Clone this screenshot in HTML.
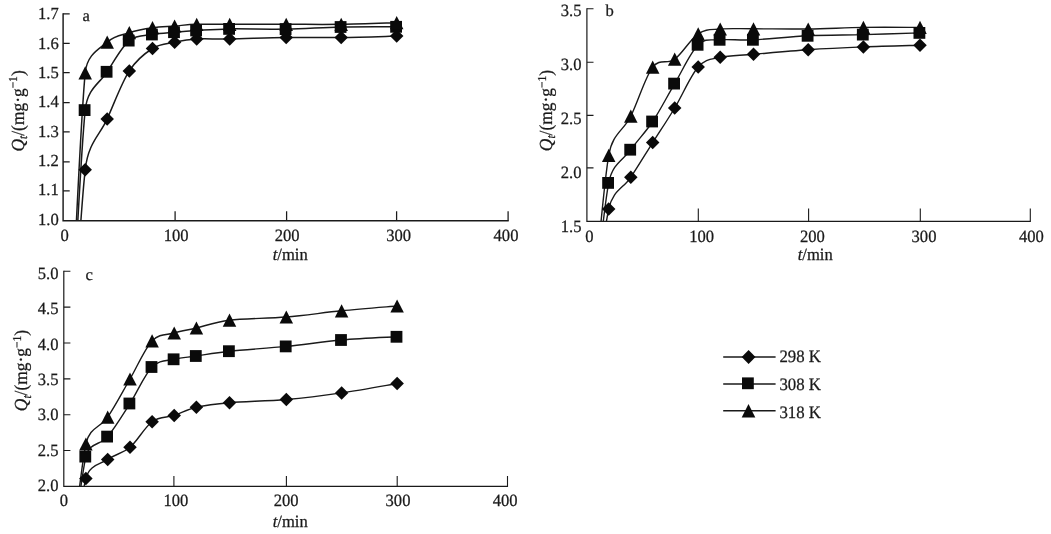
<!DOCTYPE html>
<html lang="en"><head><meta charset="utf-8"><title>Adsorption kinetics at 298, 308 and 318 K</title>
<style>html,body{margin:0;padding:0;background:#fff;}body{width:1051px;height:534px;overflow:hidden;}svg{display:block;}text{font-family:"Liberation Serif", "Times New Roman", serif;fill:#1a1a1a;text-rendering:geometricPrecision;stroke:#1a1a1a;stroke-width:0.25px;}</style></head><body>
<svg width="1051" height="534" viewBox="0 0 1051 534">
<rect width="1051" height="534" fill="#ffffff"/>
<g id="chart-a">
<clipPath id="clip0"><rect x="63.1" y="1.8" width="455" height="219"/></clipPath>
<g fill="none" stroke="#1a1a1a" stroke-width="1.5" stroke-linejoin="round" clip-path="url(#clip0)">
<path d="M63.1,516.5 C66.78,458.72 77.85,236.07 85.2,169.8 C88.26,142.24 99.85,135.38 107.2,118.9 C114.55,102.42 121.75,82.63 129.3,70.9 C136.85,59.17 144.95,53.27 152.5,48.5 C160.05,43.73 167.23,43.88 174.6,42.3 C181.97,40.72 187.52,39.55 196.7,39 C205.88,38.45 214.78,39.25 229.7,39 C244.62,38.75 267.62,37.75 286.2,37.5 C304.78,37.25 322.78,37.73 341.2,37.5 C359.62,37.27 387.45,36.33 396.7,36.1"/>
<path d="M63.1,516.5 C66.78,448.77 77.85,184.22 85.2,110.1 C87.38,88.12 99.85,83.38 107.2,71.8 C114.55,60.22 121.75,46.82 129.3,40.6 C136.85,34.38 144.95,35.9 152.5,34.5 C160.05,33.1 167.23,32.87 174.6,32.2 C181.97,31.53 187.52,31.05 196.7,30.5 C205.88,29.95 214.78,29.13 229.7,28.9 C244.62,28.67 267.62,29.42 286.2,29.1 C304.78,28.78 322.78,27.38 341.2,27 C359.62,26.62 387.45,26.83 396.7,26.8"/>
<path d="M63.1,516.5 C66.78,442.57 77.85,151.97 85.2,72.9 C86.95,54.06 99.85,48.8 107.2,42.1 C114.55,35.4 121.75,35.1 129.3,32.7 C136.85,30.3 144.95,28.82 152.5,27.7 C160.05,26.58 167.23,26.57 174.6,26 C181.97,25.43 187.52,24.58 196.7,24.3 C205.88,24.02 214.78,24.3 229.7,24.3 C244.62,24.3 267.62,24.3 286.2,24.3 C304.78,24.3 322.78,24.57 341.2,24.3 C359.62,24.03 387.45,22.97 396.7,22.7"/>
</g>
<g stroke="#1a1a1a" fill="none" stroke-linecap="butt">
<path stroke-width="1.45" d="M63.1,13.18 L63.1,220.8 L508.73,220.8"/>
<path stroke-width="1.25" d="M63.1,13.8 h6.6 M63.1,43.45 h6.6 M63.1,72.7 h6.6 M63.1,102.65 h6.6 M63.1,131.9 h6.6 M63.1,161.75 h6.6 M63.1,190.9 h6.6 M175.1,220.8 v-9.6 M286.6,220.8 v-9.6 M396.6,220.8 v-9.6 M508.1,220.8 v-9.6"/>
</g>
<g fill="#0a0a0a" stroke="none">
<path d="M85.2,163.05 L91.95,169.8 L85.2,176.55 L78.45,169.8Z"/>
<path d="M107.2,112.15 L113.95,118.9 L107.2,125.65 L100.45,118.9Z"/>
<path d="M129.3,64.15 L136.05,70.9 L129.3,77.65 L122.55,70.9Z"/>
<path d="M152.5,41.75 L159.25,48.5 L152.5,55.25 L145.75,48.5Z"/>
<path d="M174.6,35.55 L181.35,42.3 L174.6,49.05 L167.85,42.3Z"/>
<path d="M196.7,32.25 L203.45,39 L196.7,45.75 L189.95,39Z"/>
<path d="M229.7,32.25 L236.45,39 L229.7,45.75 L222.95,39Z"/>
<path d="M286.2,30.75 L292.95,37.5 L286.2,44.25 L279.45,37.5Z"/>
<path d="M341.2,30.75 L347.95,37.5 L341.2,44.25 L334.45,37.5Z"/>
<path d="M396.7,29.35 L403.45,36.1 L396.7,42.85 L389.95,36.1Z"/>
<rect x="78.7" y="104.2" width="11.8" height="11.8"/>
<rect x="100.7" y="65.9" width="11.8" height="11.8"/>
<rect x="122.8" y="34.7" width="11.8" height="11.8"/>
<rect x="146" y="28.6" width="11.8" height="11.8"/>
<rect x="168.1" y="26.3" width="11.8" height="11.8"/>
<rect x="190.2" y="24.6" width="11.8" height="11.8"/>
<rect x="223.2" y="23" width="11.8" height="11.8"/>
<rect x="279.7" y="23.2" width="11.8" height="11.8"/>
<rect x="334.7" y="21.1" width="11.8" height="11.8"/>
<rect x="390.2" y="20.9" width="11.8" height="11.8"/>
<path d="M85.2,66.3 L91.95,79.5 L78.45,79.5Z"/>
<path d="M107.2,35.5 L113.95,48.7 L100.45,48.7Z"/>
<path d="M129.3,26.1 L136.05,39.3 L122.55,39.3Z"/>
<path d="M152.5,21.1 L159.25,34.3 L145.75,34.3Z"/>
<path d="M174.6,19.4 L181.35,32.6 L167.85,32.6Z"/>
<path d="M196.7,17.7 L203.45,30.9 L189.95,30.9Z"/>
<path d="M229.7,17.7 L236.45,30.9 L222.95,30.9Z"/>
<path d="M286.2,17.7 L292.95,30.9 L279.45,30.9Z"/>
<path d="M341.2,17.7 L347.95,30.9 L334.45,30.9Z"/>
<path d="M396.7,16.1 L403.45,29.3 L389.95,29.3Z"/>
</g>
<g font-size="16.6">
<text transform="translate(38,19.4) scale(1,1.02)">1.7</text>
<text transform="translate(38,48.74) scale(1,1.02)">1.6</text>
<text transform="translate(38,78.09) scale(1,1.02)">1.5</text>
<text transform="translate(38,107.43) scale(1,1.02)">1.4</text>
<text transform="translate(38,136.77) scale(1,1.02)">1.3</text>
<text transform="translate(38,166.11) scale(1,1.02)">1.2</text>
<text transform="translate(38,195.46) scale(1,1.02)">1.1</text>
<text transform="translate(38,224.8) scale(1,1.02)">1.0</text>
<text transform="translate(64.7,241.4) scale(1,1.04)" text-anchor="middle">0</text>
<text transform="translate(176.2,241.4) scale(1,1.04)" text-anchor="middle">100</text>
<text transform="translate(287.1,241.4) scale(1,1.04)" text-anchor="middle">200</text>
<text transform="translate(398.6,241.4) scale(1,1.04)" text-anchor="middle">300</text>
<text transform="translate(506,241.4) scale(1,1.04)" text-anchor="middle">400</text>
<text transform="translate(290.2,260) scale(1,1.04)" text-anchor="middle"><tspan font-style="italic">t</tspan>/min</text>
<text x="82.6" y="21.4">a</text>
</g>
<text font-size="17.4" text-anchor="middle" transform="translate(23.5,110.9) rotate(-90) scale(1,1.06)"><tspan font-style="italic">Q</tspan><tspan font-style="italic" font-size="11.5" dy="3.2">t</tspan><tspan dy="-3.2">/(mg·g</tspan><tspan font-size="11.5" dy="-6.2">−1</tspan><tspan dy="6.2">)</tspan></text>
</g>
<g id="chart-b">
<clipPath id="clip1"><rect x="586.9" y="-3.2" width="453.4" height="224.5"/></clipPath>
<g fill="none" stroke="#1a1a1a" stroke-width="1.4" stroke-linejoin="round" clip-path="url(#clip1)">
<path d="M586.9,380.6 C590.53,352 601.38,242.88 608.7,209 C612.78,190.11 623.47,188.37 630.8,177.3 C638.13,166.23 645.38,154.15 652.7,142.6 C660.02,131.05 667.12,120.6 674.7,108 C682.28,95.4 690.62,75.45 698.2,67 C705.78,58.55 710.98,59.42 720.2,57.3 C729.42,55.18 738.83,55.57 753.5,54.3 C768.17,53.03 789.88,50.93 808.2,49.7 C826.52,48.47 844.77,47.65 863.4,46.9 C882.03,46.15 910.57,45.48 920,45.2"/>
<path d="M586.9,380.6 C590.53,347.65 601.38,221.38 608.7,182.9 C612.42,163.31 623.47,159.93 630.8,149.7 C638.13,139.47 645.38,132.52 652.7,121.5 C660.02,110.48 667.12,96.38 674.7,83.6 C682.28,70.82 690.62,52.1 698.2,44.8 C705.78,37.5 710.98,40.63 720.2,39.8 C729.42,38.97 738.83,40.47 753.5,39.8 C768.17,39.13 789.88,36.67 808.2,35.8 C826.52,34.93 844.77,35.08 863.4,34.6 C882.03,34.12 910.57,33.18 920,32.9"/>
<path d="M586.9,380.6 C590.53,343.07 601.38,199.47 608.7,155.4 C612.39,133.2 623.47,130.92 630.8,116.2 C638.13,101.48 645.38,76.6 652.7,67.1 C659.83,57.84 667.12,64.75 674.7,59.2 C682.28,53.65 690.62,38.83 698.2,33.8 C705.78,28.77 710.98,29.83 720.2,29 C729.42,28.17 738.83,28.8 753.5,28.8 C768.17,28.8 789.88,29.23 808.2,29 C826.52,28.77 844.77,27.67 863.4,27.4 C882.03,27.13 910.57,27.4 920,27.4"/>
</g>
<g stroke="#1a1a1a" fill="none" stroke-linecap="butt">
<path stroke-width="1.2" d="M586.9,8.25 L586.9,221.3 L1030.85,221.3"/>
<path stroke-width="1.1" d="M586.9,8.8 h6.6 M586.9,62.2 h6.6 M586.9,115.4 h6.6 M586.9,167.9 h6.6 M698.3,221.3 v-12.8 M808.6,221.3 v-12.8 M920.3,221.3 v-12.8 M1030.3,221.3 v-12.8"/>
</g>
<g fill="#0a0a0a" stroke="none">
<path d="M608.7,202.25 L615.45,209 L608.7,215.75 L601.95,209Z"/>
<path d="M630.8,170.55 L637.55,177.3 L630.8,184.05 L624.05,177.3Z"/>
<path d="M652.7,135.85 L659.45,142.6 L652.7,149.35 L645.95,142.6Z"/>
<path d="M674.7,101.25 L681.45,108 L674.7,114.75 L667.95,108Z"/>
<path d="M698.2,60.25 L704.95,67 L698.2,73.75 L691.45,67Z"/>
<path d="M720.2,50.55 L726.95,57.3 L720.2,64.05 L713.45,57.3Z"/>
<path d="M753.5,47.55 L760.25,54.3 L753.5,61.05 L746.75,54.3Z"/>
<path d="M808.2,42.95 L814.95,49.7 L808.2,56.45 L801.45,49.7Z"/>
<path d="M863.4,40.15 L870.15,46.9 L863.4,53.65 L856.65,46.9Z"/>
<path d="M920,38.45 L926.75,45.2 L920,51.95 L913.25,45.2Z"/>
<rect x="602.2" y="177" width="11.8" height="11.8"/>
<rect x="624.3" y="143.8" width="11.8" height="11.8"/>
<rect x="646.2" y="115.6" width="11.8" height="11.8"/>
<rect x="668.2" y="77.7" width="11.8" height="11.8"/>
<rect x="691.7" y="38.9" width="11.8" height="11.8"/>
<rect x="713.7" y="33.9" width="11.8" height="11.8"/>
<rect x="747" y="33.9" width="11.8" height="11.8"/>
<rect x="801.7" y="29.9" width="11.8" height="11.8"/>
<rect x="856.9" y="28.7" width="11.8" height="11.8"/>
<rect x="913.5" y="27" width="11.8" height="11.8"/>
<path d="M608.7,148.8 L615.45,162 L601.95,162Z"/>
<path d="M630.8,109.6 L637.55,122.8 L624.05,122.8Z"/>
<path d="M652.7,60.5 L659.45,73.7 L645.95,73.7Z"/>
<path d="M674.7,52.6 L681.45,65.8 L667.95,65.8Z"/>
<path d="M698.2,27.2 L704.95,40.4 L691.45,40.4Z"/>
<path d="M720.2,22.4 L726.95,35.6 L713.45,35.6Z"/>
<path d="M753.5,22.2 L760.25,35.4 L746.75,35.4Z"/>
<path d="M808.2,22.4 L814.95,35.6 L801.45,35.6Z"/>
<path d="M863.4,20.8 L870.15,34 L856.65,34Z"/>
<path d="M920,20.8 L926.75,34 L913.25,34Z"/>
</g>
<g font-size="16.6">
<text transform="translate(560.8,15.7) scale(1,1.04)">3.5</text>
<text transform="translate(560.8,69.65) scale(1,1.04)">3.0</text>
<text transform="translate(560.8,123.6) scale(1,1.04)">2.5</text>
<text transform="translate(560.8,177.55) scale(1,1.04)">2.0</text>
<text transform="translate(560.8,231.5) scale(1,1.04)">1.5</text>
<text transform="translate(589.4,241.5) scale(1,1.04)" text-anchor="middle">0</text>
<text transform="translate(701.6,241.5) scale(1,1.04)" text-anchor="middle">100</text>
<text transform="translate(812.4,241.5) scale(1,1.04)" text-anchor="middle">200</text>
<text transform="translate(924,241.5) scale(1,1.04)" text-anchor="middle">300</text>
<text transform="translate(1031.4,241.5) scale(1,1.04)" text-anchor="middle">400</text>
<text transform="translate(815.2,259.8) scale(1,1.04)" text-anchor="middle"><tspan font-style="italic">t</tspan>/min</text>
<text x="605.6" y="16.1">b</text>
</g>
<text font-size="17.4" text-anchor="middle" transform="translate(552.1,110.6) rotate(-90) scale(1,1.06)"><tspan font-style="italic">Q</tspan><tspan font-style="italic" font-size="11.5" dy="3.2">t</tspan><tspan dy="-3.2">/(mg·g</tspan><tspan font-size="11.5" dy="-6.2">−1</tspan><tspan dy="6.2">)</tspan></text>
</g>
<g id="chart-c">
<clipPath id="clip2"><rect x="63.8" y="259.3" width="453.7" height="227.1"/></clipPath>
<g fill="none" stroke="#1a1a1a" stroke-width="1.4" stroke-linejoin="round" clip-path="url(#clip2)">
<path d="M63.8,629.8 C67.48,604.58 78.58,506.9 85.9,478.5 C89.52,464.47 100.35,464.6 107.7,459.4 C115.05,454.2 122.6,453.58 130,447.3 C137.4,441.02 144.73,427.02 152.1,421.7 C159.47,416.38 166.82,417.8 174.2,415.4 C181.58,413 187.18,409.42 196.4,407.3 C205.62,405.18 214.52,404 229.5,402.7 C244.48,401.4 267.62,401.13 286.3,399.5 C304.98,397.87 323.13,395.57 341.6,392.9 C360.07,390.23 387.85,385.07 397.1,383.5"/>
<path d="M63.8,629.8 C67.48,600.93 78.58,488.8 85.9,456.6 C89.18,442.18 100.35,445.45 107.7,436.6 C115.05,427.75 122.6,415.1 130,403.5 C137.4,391.9 144.73,374.37 152.1,367 C159.47,359.63 166.82,361.13 174.2,359.3 C181.58,357.47 187.18,357.35 196.4,356 C205.62,354.65 214.52,352.8 229.5,351.2 C244.48,349.6 267.62,348.27 286.3,346.4 C304.98,344.53 323.13,341.6 341.6,340 C360.07,338.4 387.85,337.33 397.1,336.8"/>
<path d="M63.8,629.8 C67.48,598.83 78.58,479.45 85.9,444 C89.4,427.05 100.35,427.93 107.7,417.1 C115.05,406.27 122.6,391.7 130,379 C137.4,366.3 144.73,348.57 152.1,340.9 C159.47,333.23 166.82,335.15 174.2,333 C181.58,330.85 187.18,330.13 196.4,328 C205.62,325.87 214.52,322.03 229.5,320.2 C244.48,318.37 267.62,318.57 286.3,317 C304.98,315.43 323.13,312.63 341.6,310.8 C360.07,308.97 387.85,306.8 397.1,306"/>
</g>
<g stroke="#1a1a1a" fill="none" stroke-linecap="butt">
<path stroke-width="1.2" d="M63.8,270.75 L63.8,486.4 L508.05,486.4"/>
<path stroke-width="1.1" d="M63.8,271.3 h6.6 M63.8,307.15 h6.6 M63.8,343 h6.6 M63.8,378.85 h6.6 M63.8,414.7 h6.6 M63.8,450.55 h6.6 M173.9,486.4 v-10.4 M286.4,486.4 v-10.4 M397.2,486.4 v-10.4 M507.5,486.4 v-10.4"/>
</g>
<g fill="#0a0a0a" stroke="none">
<path d="M85.9,471.75 L92.65,478.5 L85.9,485.25 L79.15,478.5Z"/>
<path d="M107.7,452.65 L114.45,459.4 L107.7,466.15 L100.95,459.4Z"/>
<path d="M130,440.55 L136.75,447.3 L130,454.05 L123.25,447.3Z"/>
<path d="M152.1,414.95 L158.85,421.7 L152.1,428.45 L145.35,421.7Z"/>
<path d="M174.2,408.65 L180.95,415.4 L174.2,422.15 L167.45,415.4Z"/>
<path d="M196.4,400.55 L203.15,407.3 L196.4,414.05 L189.65,407.3Z"/>
<path d="M229.5,395.95 L236.25,402.7 L229.5,409.45 L222.75,402.7Z"/>
<path d="M286.3,392.75 L293.05,399.5 L286.3,406.25 L279.55,399.5Z"/>
<path d="M341.6,386.15 L348.35,392.9 L341.6,399.65 L334.85,392.9Z"/>
<path d="M397.1,376.75 L403.85,383.5 L397.1,390.25 L390.35,383.5Z"/>
<rect x="79.4" y="450.7" width="11.8" height="11.8"/>
<rect x="101.2" y="430.7" width="11.8" height="11.8"/>
<rect x="123.5" y="397.6" width="11.8" height="11.8"/>
<rect x="145.6" y="361.1" width="11.8" height="11.8"/>
<rect x="167.7" y="353.4" width="11.8" height="11.8"/>
<rect x="189.9" y="350.1" width="11.8" height="11.8"/>
<rect x="223" y="345.3" width="11.8" height="11.8"/>
<rect x="279.8" y="340.5" width="11.8" height="11.8"/>
<rect x="335.1" y="334.1" width="11.8" height="11.8"/>
<rect x="390.6" y="330.9" width="11.8" height="11.8"/>
<path d="M85.9,437.4 L92.65,450.6 L79.15,450.6Z"/>
<path d="M107.7,410.5 L114.45,423.7 L100.95,423.7Z"/>
<path d="M130,372.4 L136.75,385.6 L123.25,385.6Z"/>
<path d="M152.1,334.3 L158.85,347.5 L145.35,347.5Z"/>
<path d="M174.2,326.4 L180.95,339.6 L167.45,339.6Z"/>
<path d="M196.4,321.4 L203.15,334.6 L189.65,334.6Z"/>
<path d="M229.5,313.6 L236.25,326.8 L222.75,326.8Z"/>
<path d="M286.3,310.4 L293.05,323.6 L279.55,323.6Z"/>
<path d="M341.6,304.2 L348.35,317.4 L334.85,317.4Z"/>
<path d="M397.1,299.4 L403.85,312.6 L390.35,312.6Z"/>
</g>
<g font-size="16.6">
<text transform="translate(37.8,278.6) scale(1,1.04)">5.0</text>
<text transform="translate(37.8,314.07) scale(1,1.04)">4.5</text>
<text transform="translate(37.8,349.53) scale(1,1.04)">4.0</text>
<text transform="translate(37.8,385) scale(1,1.04)">3.5</text>
<text transform="translate(37.8,420.47) scale(1,1.04)">3.0</text>
<text transform="translate(37.8,455.93) scale(1,1.04)">2.5</text>
<text transform="translate(37.8,491.4) scale(1,1.04)">2.0</text>
<text transform="translate(63.8,506.2) scale(1,1.04)" text-anchor="middle">0</text>
<text transform="translate(175.9,506.2) scale(1,1.04)" text-anchor="middle">100</text>
<text transform="translate(286.2,506.2) scale(1,1.04)" text-anchor="middle">200</text>
<text transform="translate(398,506.2) scale(1,1.04)" text-anchor="middle">300</text>
<text transform="translate(505.2,506.2) scale(1,1.04)" text-anchor="middle">400</text>
<text transform="translate(290.2,527.3) scale(1,1.04)" text-anchor="middle"><tspan font-style="italic">t</tspan>/min</text>
<text x="85.4" y="279.8">c</text>
</g>
<text font-size="17.4" text-anchor="middle" transform="translate(27.2,370.6) rotate(-90) scale(1,1.06)"><tspan font-style="italic">Q</tspan><tspan font-style="italic" font-size="11.5" dy="3.2">t</tspan><tspan dy="-3.2">/(mg·g</tspan><tspan font-size="11.5" dy="-6.2">−1</tspan><tspan dy="6.2">)</tspan></text>
</g>
<g id="legend">
<g stroke="#1a1a1a" stroke-width="1.4" fill="none">
<path d="M723.2,357 H775.6"/>
<path d="M723.2,384 H775.6"/>
<path d="M723.2,410.8 H775.6"/>
</g><g fill="#0a0a0a">
<path d="M748.6,350.1 L755.5,357 L748.6,363.9 L741.7,357Z"/>
<rect x="742" y="377.4" width="11.8" height="11.8"/>
<path d="M748.5,404.1 L755.3,417.5 L741.7,417.5Z"/>
</g><g font-size="16.8">
<text transform="translate(779.4,362) scale(1,1.04)">298 K</text>
<text transform="translate(779.4,390) scale(1,1.04)">308 K</text>
<text transform="translate(779.4,417.8) scale(1,1.04)">318 K</text>
</g></g>
</svg></body></html>
